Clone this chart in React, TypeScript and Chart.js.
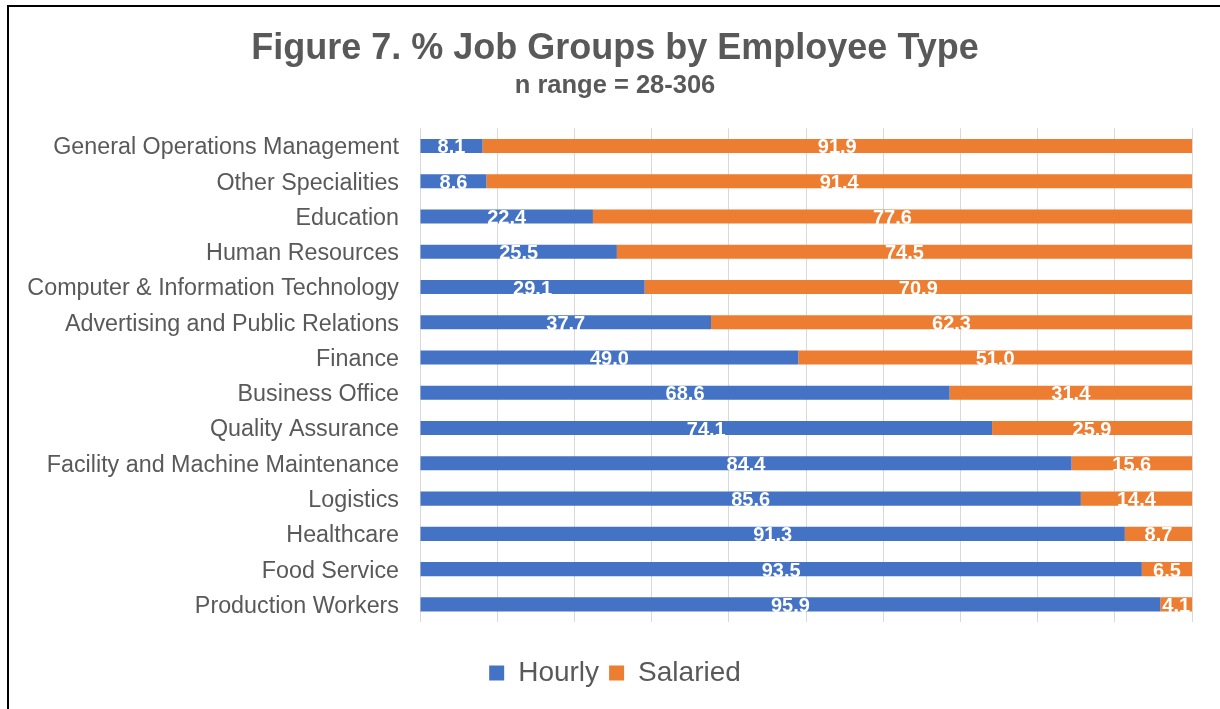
import React, { useEffect, useRef } from "react";
import { Chart, registerables } from "chart.js";

Chart.register(...registerables);

const categories: string[] = [
  "General Operations Management",
  "Other Specialities",
  "Education",
  "Human Resources",
  "Computer & Information Technology",
  "Advertising and Public Relations",
  "Finance",
  "Business Office",
  "Quality Assurance",
  "Facility and Machine Maintenance",
  "Logistics",
  "Healthcare",
  "Food Service",
  "Production Workers",
];

const hourly: number[] = [8.1, 8.6, 22.4, 25.5, 29.1, 37.7, 49.0, 68.6, 74.1, 84.4, 85.6, 91.3, 93.5, 95.9];
const salaried: number[] = [91.9, 91.4, 77.6, 74.5, 70.9, 62.3, 51.0, 31.4, 25.9, 15.6, 14.4, 8.7, 6.5, 4.1];

const seriesNames: string[] = ["Hourly", "Salaried"];
const titleText = "Figure 7. % Job Groups by Employee Type";
const subtitleText = "n range = 28-306";

const BLUE = "#4472C4";
const ORANGE = "#ED7D31";
const TEXT = "#595959";
const FONT = "'Liberation Sans', Arial, sans-serif";

const valueLabels = {
  id: "valueLabels",
  afterDatasetsDraw(chart: any) {
    const ctx = chart.ctx;
    ctx.save();
    ctx.font = `bold 20px ${FONT}`;
    ctx.fillStyle = "#ffffff";
    ctx.textAlign = "center";
    ctx.textBaseline = "middle";
    chart.data.datasets.forEach((ds: any, di: number) => {
      const meta = chart.getDatasetMeta(di);
      meta.data.forEach((bar: any, i: number) => {
        const v = ds.data[i];
        const cx = (bar.x + bar.base) / 2;
        ctx.fillText(Number(v).toFixed(1), cx, bar.y + 2);
      });
    });
    ctx.restore();
  },
};

export default function App() {
  const canvasRef = useRef<HTMLCanvasElement | null>(null);

  useEffect(() => {
    if (!canvasRef.current) return;
    const chart = new Chart(canvasRef.current, {
      type: "bar",
      data: {
        labels: categories,
        datasets: [
          {
            label: seriesNames[0],
            data: hourly,
            backgroundColor: BLUE,
            borderWidth: 0,
            barPercentage: 0.4,
            categoryPercentage: 1,
          },
          {
            label: seriesNames[1],
            data: salaried,
            backgroundColor: ORANGE,
            borderWidth: 0,
            barPercentage: 0.4,
            categoryPercentage: 1,
          },
        ],
      },
      options: {
        indexAxis: "y",
        animation: false,
        responsive: true,
        maintainAspectRatio: false,
        layout: { padding: { left: 10, right: 0, top: 0, bottom: 12 } },
        plugins: {
          title: {
            display: true,
            text: titleText,
            color: TEXT,
            font: { family: FONT, size: 36, weight: "bold" },
            padding: { top: 27, bottom: 0 },
          },
          subtitle: {
            display: true,
            text: subtitleText,
            color: TEXT,
            font: { family: FONT, size: 25.5, weight: "bold" },
            padding: { top: 0, bottom: 27.5 },
          },
          legend: {
            display: true,
            position: "bottom",
            labels: {
              color: TEXT,
              font: { family: FONT, size: 28 },
              boxWidth: 15,
              boxHeight: 15,
              padding: 10,
            },
          },
          tooltip: { enabled: false },
        },
        scales: {
          x: {
            stacked: true,
            min: 0,
            max: 100,
            ticks: { display: false, stepSize: 10 },
            grid: { display: true, color: "#d9d9d9", lineWidth: 1, drawTicks: false },
            border: { display: false },
            afterFit: (s: any) => {
              s.height = 27;
            },
          },
          y: {
            stacked: true,
            ticks: {
              color: TEXT,
              font: { family: FONT, size: 23.3 },
              padding: 21,
              labelOffset: 2,
              autoSkip: false,
            },
            grid: { display: false, drawTicks: false },
            border: { display: false },
            afterFit: (s: any) => {
              s.width = 410;
            },
          },
          y2: {
            type: "linear",
            position: "right",
            display: true,
            ticks: { display: false },
            grid: { display: false, drawTicks: false },
            border: { display: false },
            afterFit: (s: any) => {
              s.width = 28;
            },
          },
        },
      } as any,
      plugins: [valueLabels],
    });
    return () => chart.destroy();
  }, []);

  return (
    <div style={{ position: "fixed", left: 0, top: 0, width: 1220, height: 709, overflow: "hidden", background: "#fff" }}>
      <div
        style={{
          position: "absolute",
          left: 7,
          top: 5,
          width: 1300,
          height: 800,
          borderLeft: "2px solid #000",
          borderTop: "2px solid #000",
        }}
      />
      <div style={{ position: "absolute", left: 0, top: 0, width: 1220, height: 709 }}>
        <canvas ref={canvasRef} />
      </div>
    </div>
  );
}
